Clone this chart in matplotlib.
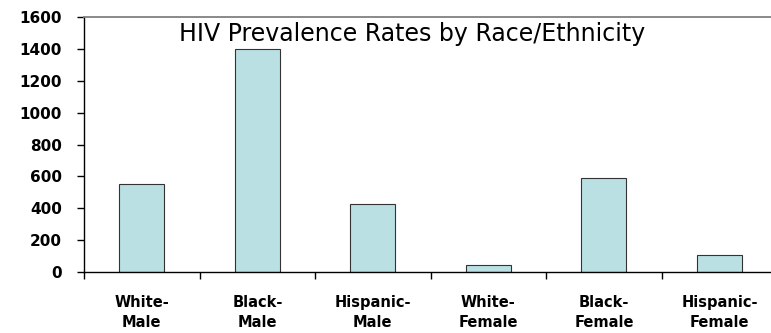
import matplotlib.pyplot as plt

plt.rcParams['font.family'] = ['Liberation Sans', 'DejaVu Sans']

groups = ['White-\nMale', 'Black-\nMale', 'Hispanic-\nMale',
          'White-\nFemale', 'Black-\nFemale', 'Hispanic-\nFemale']
rates = [550, 1400, 425, 45, 590, 105]
y_ticks = [0, 200, 400, 600, 800, 1000, 1200, 1400, 1600]

fig = plt.figure(figsize=(7.71, 3.33), dpi=100)
ax = fig.add_axes([0.109, 0.183, 0.899, 0.766])

x = range(len(groups))
ax.bar([i + 0.5 for i in x], rates, width=0.39, color='#BAE0E3',
       edgecolor='#333333', linewidth=0.8)

ax.set_xlim(0, len(groups))
ax.set_ylim(0, 1600)
ax.set_yticks(y_ticks)
ax.set_yticklabels([str(v) for v in y_ticks], fontsize=11,
                   fontweight='bold', family='DejaVu Sans')

# category boundaries carry the tick marks, labels sit at bar centres
ax.set_xticks(list(x) + [len(groups)])
ax.set_xticklabels([])
ax.tick_params(axis='x', length=5, direction='out', width=1)
ax.tick_params(axis='y', length=5, direction='out', width=1, pad=11)
for i, g in enumerate(groups):
    ax.text(i + 0.5, -0.088, g, transform=ax.get_xaxis_transform(),
            ha='center', va='top', fontsize=10.5, fontweight='bold',
            family='DejaVu Sans', linespacing=1.42)

ax.spines['right'].set_visible(False)
for side in ['left', 'bottom']:
    ax.spines[side].set_linewidth(1.0)
ax.spines['top'].set_linewidth(1.3)
ax.spines['top'].set_color('#808080')

fig.text(0.534, 0.935, 'HIV Prevalence Rates by Race/Ethnicity',
         ha='center', va='top', fontsize=17, family='DejaVu Sans')

fig.savefig('out.png', dpi=100)
